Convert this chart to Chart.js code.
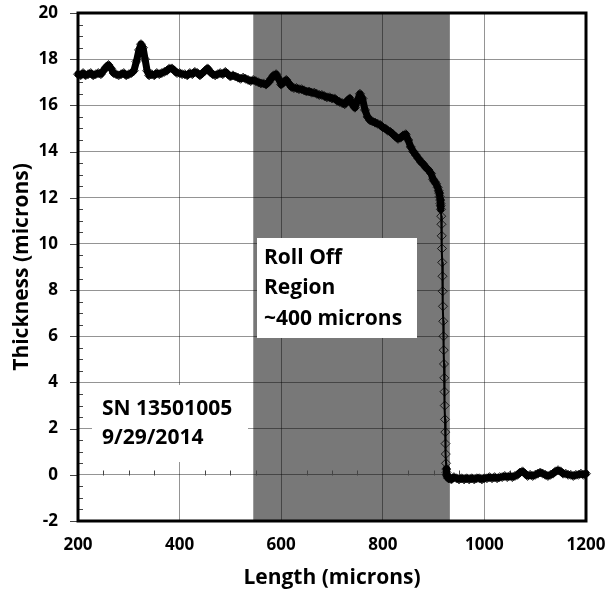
<!DOCTYPE html>
<html><head><meta charset="utf-8">
<script src="https://cdn.jsdelivr.net/npm/chart.js@4.4.0/dist/chart.umd.min.js"></script>
<style>html,body{margin:0;padding:0;background:#fff}#wrap{width:606px;height:592px}</style>
</head><body><div id="wrap"><canvas id="c" width="606" height="592"></canvas></div>
<script>
// Length along the part (microns)
const lengthMicrons = [
 200,205,210,215,220,225,230,235,240,245,250,255,260,265,270,275,280,285,290,295,
 300,305,310,315,320,324,328,332,336,340,345,350,355,360,365,370,375,380,385,390,
 395,400,405,410,415,420,425,430,435,440,445,450,455,460,465,470,475,480,485,490,
 495,500,505,510,515,520,525,530,535,540,545,550,555,560,565,570,575,580,585,590,
 595,600,605,610,615,620,625,630,635,640,645,650,655,660,665,670,675,680,685,690,
 695,700,705,710,715,720,725,730,735,740,745,750,755,760,765,770,775,780,785,790,
 795,800,805,810,815,820,825,830,835,840,845,850,855,860,865,870,875,880,885,890,
 895,899,902,905,908,910,911,912,913,913.5,914,914.5,915,915.5,916,916.5,917,917.5,918,918.5,
 919,919.5,920,920.5,921,921.5,922,922.5,923,923.5,924,924.5,925,925.5,926,927,928,929,930,935,
 940,945,950,955,960,965,970,975,980,985,990,995,1000,1005,1010,1015,1020,1025,1030,1035,
 1040,1045,1050,1055,1060,1065,1070,1075,1080,1085,1090,1095,1100,1105,1110,1115,1120,1125,1130,1135,
 1140,1145,1150,1155,1160,1165,1170,1175,1180,1185,1190,1195,1200
];
// Measured thickness (microns)
const thicknessMicrons = [
 17.35,17.3,17.4,17.3,17.35,17.4,17.3,17.35,17.4,17.35,17.5,17.65,17.75,17.6,17.4,17.35,17.3,17.35,17.4,17.3,
 17.35,17.4,17.5,17.9,18.4,18.65,18.5,18.0,17.5,17.3,17.35,17.3,17.4,17.35,17.4,17.45,17.5,17.6,17.6,17.5,
 17.4,17.4,17.35,17.35,17.3,17.4,17.35,17.45,17.4,17.3,17.4,17.5,17.6,17.45,17.35,17.3,17.35,17.4,17.35,17.45,
 17.35,17.25,17.3,17.25,17.2,17.15,17.2,17.15,17.1,17.05,17.1,17.05,17.0,16.95,16.95,16.9,17.0,17.15,17.3,17.35,
 17.15,16.9,17.0,17.1,16.95,16.8,16.75,16.75,16.7,16.7,16.65,16.6,16.6,16.55,16.55,16.5,16.45,16.45,16.4,16.35,
 16.35,16.3,16.3,16.2,16.15,16.1,16.05,16.2,16.3,16.05,15.9,16.2,16.5,16.3,15.8,15.5,15.35,15.3,15.25,15.2,
 15.15,15.05,15.0,14.9,14.85,14.75,14.65,14.55,14.6,14.7,14.75,14.5,14.2,14.0,13.85,13.7,13.55,13.45,13.3,13.2,
 13.05,12.8,12.7,12.6,12.45,12.3,12.2,12.05,11.9,11.75,11.65,11.5,11.2,10.85,10.35,9.8,9.2,8.6,7.95,7.3,
 6.65,6.0,5.4,4.8,4.2,3.6,3.0,2.4,1.85,1.35,0.9,0.5,0.25,0.1,0.0,-0.05,-0.1,-0.15,-0.15,-0.2,
 -0.1,-0.15,-0.2,-0.15,-0.2,-0.15,-0.2,-0.15,-0.2,-0.15,-0.15,-0.2,-0.15,-0.15,-0.1,-0.15,-0.1,-0.15,-0.1,-0.1,
 -0.05,-0.1,-0.05,-0.1,-0.05,0.0,0.1,0.15,0.05,-0.05,0.0,-0.05,0.0,0.05,0.1,0.05,0.0,-0.05,0.0,0.05,
 0.15,0.2,0.15,0.05,0.05,0.0,0.0,-0.05,0.0,0.0,0.05,0.0,0.05
];
const xTickValues = [200,400,600,800,1000,1200];
const yTickValues = [-2,0,2,4,6,8,10,12,14,16,18,20];
const rollOffRegion = [545, 932];
const rollOffLabel = ['Roll Off','Region','~400 microns'];
const sampleLabel = ['SN 13501005','9/29/2014'];

const FONT = '"Open Sans", "Noto Sans", sans-serif';

const decor = {
  id:'decor',
  beforeDraw(chart){
    const {ctx, chartArea:a, scales:{x}} = chart;
    ctx.save();
    ctx.fillStyle = '#787878';
    const x0 = x.getPixelForValue(rollOffRegion[0]), x1 = x.getPixelForValue(rollOffRegion[1]);
    ctx.fillRect(x0, a.top, x1-x0, a.bottom-a.top);
    ctx.restore();
  },
  beforeDatasetsDraw(chart){
    const {ctx, chartArea:a, scales:{x,y}} = chart;
    ctx.save();
    // text boxes
    ctx.fillStyle = '#fff';
    ctx.fillRect(257, 238, 160, 100);
    ctx.fillRect(92, 385, 156, 77);
    ctx.fillStyle = '#000';
    ctx.font = 'bold 21px ' + FONT;
    ctx.textBaseline = 'middle';
    ctx.textAlign = 'left';
    rollOffLabel.forEach((t,i)=>ctx.fillText(t, 264, 258 + i*30.5));
    sampleLabel.forEach((t,i)=>ctx.fillText(t, 102, 409 + i*29));
    // ticks
    ctx.strokeStyle = '#444';
    ctx.lineWidth = 1;
    ctx.beginPath();
    for (let v=-2; v<=20.001; v+=0.5){
      const py = Math.round(y.getPixelForValue(v))+0.5;
      if (Math.abs(v/2 - Math.round(v/2))<1e-6){ ctx.moveTo(a.left-8, py); ctx.lineTo(a.left, py); }
      else { ctx.moveTo(a.left, py); ctx.lineTo(a.left+5, py); }
    }
    const y0 = Math.round(y.getPixelForValue(0))+0.5;
    for (let v=250; v<1200; v+=50){
      if (v%200===0) continue;
      const px = Math.round(x.getPixelForValue(v))+0.5;
      ctx.moveTo(px, y0); ctx.lineTo(px, y0-5);
    }
    ctx.stroke();
    // frame
    ctx.strokeStyle = '#000';
    ctx.lineWidth = 3;
    ctx.strokeRect(a.left, a.top, a.right-a.left, a.bottom-a.top);
    ctx.restore();
  }
};

const steep = c => {
  const dx = Math.abs(c.p1.parsed.x - c.p0.parsed.x) || 1e-6;
  const dy = Math.abs(c.p1.parsed.y - c.p0.parsed.y);
  return dy/dx > 0.45;
};

new Chart(document.getElementById('c'), {
  type:'line',
  data:{ datasets:[{
    data: lengthMicrons.map((v,i)=>({x:v, y:thicknessMicrons[i]})),
    borderColor:'#000',
    borderWidth:7,
    borderCapStyle:'round',
    borderJoinStyle:'round',
    tension:0,
    pointStyle:'rectRot',
    pointRadius:4.5,
    pointBorderWidth:1,
    pointBorderColor:'rgba(0,0,0,0.8)',
    pointBackgroundColor:'rgba(0,0,0,0)',
    clip:false,
    segment:{ borderWidth: c => steep(c) ? 2 : 7 }
  }]},
  options:{
    responsive:false,
    animation:false,
    devicePixelRatio:1,
    events:[],
    layout:{ padding:{ left:0, right:20, top:13, bottom:0 } },
    plugins:{ legend:{display:false}, tooltip:{enabled:false} },
    scales:{
      x:{
        type:'linear', min:200, max:1200,
        afterBuildTicks: s => { s.ticks = xTickValues.map(v=>({value:v})); },
        afterFit: s => { s.height = 71; s.paddingLeft = 0; s.paddingRight = 0; },
        grid:{ color:'rgba(0,0,0,0.42)', lineWidth:1, drawTicks:false },
        border:{ display:false },
        ticks:{ padding:14, color:'#000', font:{ family:FONT, size:17, weight:'bold' }, maxRotation:0, callback: v => String(v) },
        title:{ display:true, text:'Length (microns)', color:'#000', padding:{top:0,bottom:1}, font:{ family:FONT, size:21, weight:'bold' } }
      },
      y:{
        type:'linear', min:-2, max:20,
        afterBuildTicks: s => { s.ticks = yTickValues.map(v=>({value:v})); },
        afterFit: s => { s.width = 78; s.paddingTop = 0; s.paddingBottom = 0; },
        grid:{ color:'rgba(0,0,0,0.42)', lineWidth:1, drawTicks:false },
        border:{ display:false },
        ticks:{ padding:20, color:'#000', font:{ family:FONT, size:17, weight:'bold' }, callback: v => String(v) },
        title:{ display:true, text:'Thickness (microns)', color:'#000', padding:{top:9,bottom:0}, font:{ family:FONT, size:21, weight:'bold' } }
      }
    }
  },
  plugins:[decor]
});
</script>
</body></html>
